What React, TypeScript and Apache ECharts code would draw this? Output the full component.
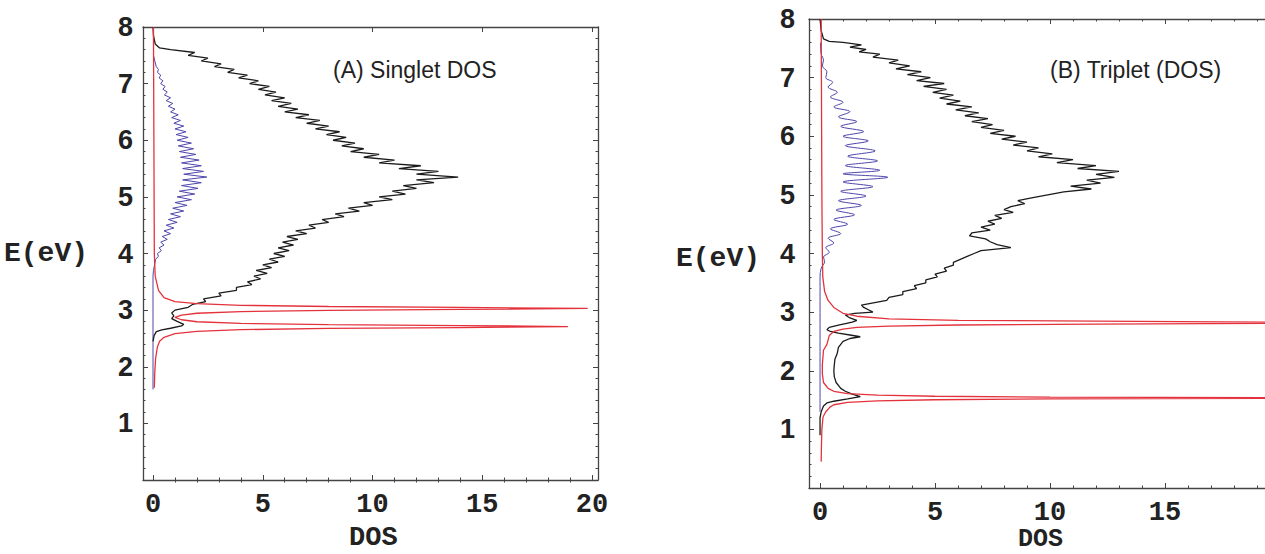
import React, { useEffect, useRef } from "react";
import * as echarts from "echarts";

// ---------- tick labels ----------
const yTickLabels = [1, 2, 3, 4, 5, 6, 7, 8];
const xTickLabelsA = [0, 5, 10, 15, 20];
const xTickLabelsB = [0, 5, 10, 15];
const xMinorA = [1, 2, 3, 4, 6, 7, 8, 9, 11, 12, 13, 14, 16, 17, 18, 19];
const xMinorB = [1, 2, 3, 4, 6, 7, 8, 9, 11, 12, 13, 14, 16, 17, 18, 19];

// ---------- panel A : singlet DOS  ([DOS, E]) ----------
const singletTotal = [
  [0, 8.0], [0.02, 7.85], [0.1, 7.7], [0.3, 7.63], [0.8, 7.6],
  [1.9, 7.55], [1.6, 7.5], [2.5, 7.45], [2.2, 7.4], [3.1, 7.35], [2.8, 7.3], [3.7, 7.25], [3.4, 7.2],
  [4.3, 7.15], [3.9, 7.1], [4.8, 7.05], [4.4, 7.0], [5.3, 6.95], [4.8, 6.9], [5.6, 6.85], [5.1, 6.8],
  [6.0, 6.75], [5.4, 6.7], [6.3, 6.65], [5.7, 6.6], [6.6, 6.55], [6.0, 6.5], [7.1, 6.45], [6.5, 6.4],
  [7.6, 6.35], [7.0, 6.3], [8.0, 6.25], [7.4, 6.2], [8.5, 6.15], [7.9, 6.1], [8.8, 6.05], [8.2, 6.0],
  [9.2, 5.95], [8.6, 5.9], [9.6, 5.85], [9.0, 5.8], [10.3, 5.75], [9.6, 5.7], [11.0, 5.65], [10.3, 5.6],
  [12.2, 5.55], [11.2, 5.5], [13.0, 5.45], [12.0, 5.4], [13.9, 5.35], [12.0, 5.3], [12.8, 5.25], [11.4, 5.2],
  [12.0, 5.15], [10.9, 5.1], [11.5, 5.05], [10.3, 5.0], [10.9, 4.95], [9.6, 4.9], [10.0, 4.85], [8.9, 4.8],
  [9.4, 4.75], [8.3, 4.7], [8.7, 4.65], [7.7, 4.6], [8.0, 4.55], [7.1, 4.5], [7.4, 4.45], [6.5, 4.4],
  [7.0, 4.35], [6.1, 4.3], [6.6, 4.25], [5.9, 4.2], [6.4, 4.15], [5.7, 4.1], [6.2, 4.05], [5.5, 4.0],
  [6.0, 3.95], [5.3, 3.9], [5.7, 3.85], [5.0, 3.8], [5.4, 3.75], [4.7, 3.7], [5.2, 3.65], [4.6, 3.6],
  [4.9, 3.55], [4.3, 3.5], [4.5, 3.45], [3.8, 3.4], [3.8, 3.35], [3.0, 3.3], [3.1, 3.25], [2.3, 3.2],
  [2.4, 3.15], [1.8, 3.1], [1.6, 3.05], [1.0, 3.0], [0.85, 2.95], [0.95, 2.9], [0.85, 2.85], [1.1, 2.8],
  [1.4, 2.75], [1.3, 2.72], [0.8, 2.68], [0.4, 2.65], [0.15, 2.62], [0.05, 2.55], [0, 2.45],
];

const singletBlue = [
  [0.02, 7.5], [0.08, 7.4], [0.15, 7.3], [0.25, 7.25], [0.2, 7.2], [0.35, 7.15], [0.28, 7.1], [0.45, 7.05],
  [0.35, 7.0], [0.55, 6.95], [0.45, 6.9], [0.65, 6.85], [0.52, 6.8], [0.8, 6.75], [0.6, 6.7], [0.9, 6.65],
  [0.7, 6.6], [1.0, 6.55], [0.8, 6.5], [1.15, 6.45], [0.85, 6.4], [1.25, 6.35], [0.95, 6.3], [1.4, 6.25],
  [1.0, 6.2], [1.5, 6.15], [1.05, 6.1], [1.6, 6.05], [1.1, 6.0], [1.75, 5.95], [1.15, 5.9], [1.85, 5.85],
  [1.2, 5.8], [1.95, 5.75], [1.25, 5.7], [2.1, 5.65], [1.3, 5.6], [2.2, 5.55], [1.35, 5.5], [2.3, 5.45],
  [1.4, 5.4], [2.45, 5.35], [1.35, 5.3], [2.2, 5.25], [1.3, 5.2], [2.05, 5.15], [1.2, 5.1], [1.9, 5.05],
  [1.1, 5.0], [1.75, 4.95], [1.0, 4.9], [1.55, 4.85], [0.9, 4.8], [1.4, 4.75], [0.8, 4.7], [1.25, 4.65],
  [0.7, 4.6], [1.1, 4.55], [0.6, 4.5], [0.95, 4.45], [0.5, 4.4], [0.8, 4.35], [0.42, 4.3], [0.65, 4.25],
  [0.35, 4.2], [0.5, 4.15], [0.28, 4.1], [0.38, 4.05], [0.2, 4.0], [0.25, 3.95], [0.12, 3.9], [0.07, 3.8],
  [0.02, 3.7], [0, 3.6], [0, 1.6],
];

const singletRed = [
  [0.02, 8.0], [0.03, 7.0], [0.04, 6.0], [0.05, 5.0], [0.06, 4.0], [0.1, 3.6], [0.25, 3.35], [0.5, 3.22],
  [1.0, 3.15], [2.0, 3.115], [4.0, 3.085], [8.0, 3.064], [14.0, 3.048], [19.8, 3.03], [14.0, 3.012],
  [8.0, 2.996], [4.0, 2.975], [2.0, 2.945], [1.3, 2.91], [1.0, 2.87], [1.3, 2.83], [2.0, 2.795],
  [4.0, 2.765], [8.0, 2.744], [14.0, 2.728], [18.9, 2.71], [14.0, 2.692], [8.0, 2.676], [4.0, 2.655],
  [2.0, 2.625], [1.0, 2.585], [0.5, 2.52], [0.3, 2.45], [0.2, 2.35], [0.12, 2.15], [0.08, 1.9], [0.06, 1.63],
];

// ---------- panel B : triplet DOS  ([DOS, E]) ----------
const tripletTotal = [
  [0, 8.0], [0.05, 7.8], [0.15, 7.66], [0.4, 7.62], [1.0, 7.6], [1.8, 7.56], [1.3, 7.52], [2.0, 7.48],
  [1.7, 7.44], [2.6, 7.4], [2.3, 7.35], [3.4, 7.3], [3.0, 7.25], [3.9, 7.2], [3.3, 7.15], [4.4, 7.1],
  [3.8, 7.05], [4.8, 7.0], [4.2, 6.95], [5.4, 6.9], [4.5, 6.85], [5.5, 6.8], [4.9, 6.75], [5.8, 6.7],
  [5.2, 6.65], [6.1, 6.6], [5.5, 6.55], [6.6, 6.5], [5.9, 6.45], [6.9, 6.4], [6.3, 6.35], [7.3, 6.3],
  [6.6, 6.25], [7.5, 6.2], [7.0, 6.15], [8.0, 6.1], [7.4, 6.05], [8.5, 6.0], [7.9, 5.95], [9.0, 5.9],
  [8.4, 5.85], [9.5, 5.8], [9.0, 5.75], [10.1, 5.7], [9.5, 5.65], [11.0, 5.6], [10.3, 5.55], [12.0, 5.5],
  [11.2, 5.45], [13.0, 5.4], [12.0, 5.35], [12.8, 5.3], [11.6, 5.25], [12.2, 5.2], [10.9, 5.15], [11.8, 5.1],
  [10.6, 5.05], [9.9, 5.0], [9.2, 4.95], [8.6, 4.9], [8.9, 4.85], [8.3, 4.8], [8.0, 4.75], [8.4, 4.7],
  [7.6, 4.65], [7.9, 4.6], [7.3, 4.55], [7.6, 4.5], [7.0, 4.45], [7.4, 4.4], [6.6, 4.35], [6.5, 4.3],
  [7.2, 4.25], [7.4, 4.2], [7.7, 4.15], [8.3, 4.1], [7.0, 4.05], [6.7, 4.0], [6.4, 3.95], [6.1, 3.9],
  [5.8, 3.85], [5.8, 3.8], [5.4, 3.75], [5.5, 3.7], [5.0, 3.65], [5.1, 3.6], [4.6, 3.55], [4.6, 3.5],
  [4.1, 3.45], [4.2, 3.4], [3.6, 3.35], [3.6, 3.3], [3.0, 3.25], [2.9, 3.2], [2.2, 3.15], [1.8, 3.12],
  [1.9, 3.08], [2.1, 3.04], [2.3, 3.0], [1.5, 2.98], [1.1, 2.95], [1.3, 2.9], [1.6, 2.86], [1.4, 2.83],
  [0.8, 2.78], [0.4, 2.74], [0.3, 2.7], [0.45, 2.67], [0.8, 2.64], [1.3, 2.61], [1.75, 2.58], [1.3, 2.55],
  [1.0, 2.5], [0.8, 2.4], [0.75, 2.3], [0.65, 2.2], [0.62, 2.1], [0.6, 2.0], [0.62, 1.9], [0.7, 1.8],
  [0.9, 1.7], [1.1, 1.65], [1.4, 1.6], [1.75, 1.56], [1.2, 1.52], [0.6, 1.48], [0.3, 1.45], [0.15, 1.4],
  [0.05, 1.3], [0, 1.2], [0, 0.9],
];

const tripletBlue = [
  [0.02, 7.6], [0.05, 7.4], [0.15, 7.3], [0.1, 7.2], [0.3, 7.1], [0.25, 7.0], [0.55, 6.92], [0.35, 6.84],
  [0.75, 6.75], [0.45, 6.67], [1.0, 6.58], [0.6, 6.5], [1.3, 6.42], [0.8, 6.33], [1.6, 6.25], [0.9, 6.17],
  [1.9, 6.08], [1.0, 6.0], [2.1, 5.92], [1.1, 5.84], [2.4, 5.75], [1.2, 5.66], [2.5, 5.58], [1.1, 5.5],
  [2.6, 5.42], [1.0, 5.36], [2.95, 5.3], [1.0, 5.22], [2.3, 5.14], [0.9, 5.06], [2.0, 4.98], [0.8, 4.9],
  [1.8, 4.82], [0.7, 4.74], [1.5, 4.66], [0.6, 4.58], [1.2, 4.5], [0.45, 4.42], [0.9, 4.34], [0.35, 4.26],
  [0.6, 4.18], [0.25, 4.1], [0.4, 4.02], [0.15, 3.94], [0.2, 3.86], [0.05, 3.75], [0, 3.6], [0, 1.3],
];

const tripletRed = [
  [0.05, 8.0], [0.06, 7.0], [0.07, 6.0], [0.08, 5.0], [0.1, 4.0], [0.12, 3.6], [0.2, 3.35], [0.35, 3.2],
  [0.6, 3.08], [1.0, 2.98], [1.6, 2.93], [3.0, 2.885], [6.0, 2.86], [12.0, 2.845], [25.0, 2.82],
  [12.0, 2.795], [6.0, 2.78], [3.0, 2.76], [1.6, 2.74], [1.0, 2.71], [0.6, 2.67], [0.4, 2.6], [0.3, 2.45],
  [0.15, 2.35], [0.1, 2.1], [0.1, 1.95], [0.15, 1.8], [0.35, 1.7], [0.6, 1.65], [1.2, 1.61], [2.5, 1.585],
  [5.0, 1.565], [10.0, 1.55], [25.0, 1.535], [10.0, 1.52], [5.0, 1.505], [2.5, 1.485], [1.2, 1.46],
  [0.6, 1.42], [0.43, 1.38], [0.25, 1.3], [0.13, 1.21], [0.08, 1.0], [0.06, 0.7], [0.05, 0.45],
];

const AXIS_COLOR = "#444";
const BLACK = "#1b1b1b";
const RED = "#e4323c";
const BLUE = "#4e46ab";

function xAxesFor(grid: number, min: number, max: number, labels: number[], minor: number[]) {
  const base = {
    type: "value", gridIndex: grid, min, max, splitLine: { show: false },
    axisLine: { show: true, onZero: false, lineStyle: { color: AXIS_COLOR, width: 1.3 } },
  };
  return [
    {
      ...base, position: "bottom",
      axisTick: { show: true, inside: true, length: 5, customValues: labels, lineStyle: { color: AXIS_COLOR } },
      axisLabel: {
        show: true, customValues: labels, margin: 11,
        fontFamily: "Liberation Mono, monospace", fontWeight: "bold", fontSize: 27, color: "#222",
      },
    },
    {
      ...base, position: "top",
      axisTick: { show: true, inside: true, length: 5, customValues: labels, lineStyle: { color: AXIS_COLOR } },
      axisLabel: { show: false },
    },
    {
      ...base, position: "bottom", axisLine: { show: false },
      axisTick: { show: true, inside: true, length: 2.5, customValues: minor, lineStyle: { color: AXIS_COLOR } },
      axisLabel: { show: false },
    },
    {
      ...base, position: "top", axisLine: { show: false },
      axisTick: { show: true, inside: true, length: 2.5, customValues: minor, lineStyle: { color: AXIS_COLOR } },
      axisLabel: { show: false },
    },
  ];
}

function yAxisFor(grid: number, position: string, labels: boolean, margin: number) {
  return {
    type: "value", gridIndex: grid, position, min: 0, max: 8, interval: 1,
    splitLine: { show: false },
    axisLine: { show: true, onZero: false, lineStyle: { color: AXIS_COLOR, width: 1.3 } },
    axisTick: { show: true, inside: true, length: 5, lineStyle: { color: AXIS_COLOR } },
    minorTick: { show: true, splitNumber: 5, length: 2.5, lineStyle: { color: AXIS_COLOR } },
    axisLabel: labels
      ? {
          show: true, customValues: yTickLabels, margin,
          fontFamily: "Liberation Sans, Arial, sans-serif", fontWeight: "bold", fontSize: 27, color: "#222",
        }
      : { show: false },
  };
}

function lineSeries(data: number[][], color: string, width: number, xi: number, yi: number, smooth = 0) {
  return {
    type: "line", data, xAxisIndex: xi, yAxisIndex: yi, showSymbol: false, symbol: "none",
    silent: true, clip: true, smooth, lineStyle: { color, width }, z: 3,
  };
}

export default function App() {
  const ref = useRef<HTMLDivElement>(null);
  useEffect(() => {
    document.body.style.margin = "0";
    const chart = echarts.init(ref.current!, null, { renderer: "svg" });
    const monoBold = "Liberation Mono, Courier New, monospace";
    chart.setOption({
      animation: false,
      backgroundColor: "#ffffff",
      grid: [
        { left: 143, top: 27, width: 455, height: 453 },
        { left: 809, top: 19, right: 0, height: 469 },
      ],
      xAxis: [
        ...xAxesFor(0, -0.456, 20.27, xTickLabelsA, xMinorA),
        ...xAxesFor(1, -0.48, 19.35, xTickLabelsB, xMinorB),
      ],
      yAxis: [
        yAxisFor(0, "left", true, 10),
        yAxisFor(0, "right", false, 0),
        yAxisFor(1, "left", true, 14),
      ],
      series: [
        lineSeries(singletBlue, BLUE, 1, 0, 0),
        lineSeries(singletTotal, BLACK, 1.3, 0, 0),
        lineSeries(singletRed, RED, 1.3, 0, 0),
        lineSeries(tripletBlue, BLUE, 1, 4, 2, 0.35),
        lineSeries(tripletTotal, BLACK, 1.3, 4, 2),
        lineSeries(tripletRed, RED, 1.3, 4, 2),
      ],
      graphic: [
        { type: "text", left: 333, top: 58, style: { text: "(A) Singlet DOS", font: "23px 'Liberation Sans', Arial, sans-serif", fill: "#222" } },
        { type: "text", left: 1050, top: 58, style: { text: "(B) Triplet (DOS)", font: "23px 'Liberation Sans', Arial, sans-serif", fill: "#222" } },
        { type: "text", left: 4, top: 239, style: { text: "E(eV)", font: `bold 28px ${monoBold}`, fill: "#222" } },
        { type: "text", left: 676, top: 244, style: { text: "E(eV)", font: `bold 28px ${monoBold}`, fill: "#222" } },
        { type: "text", left: 349, top: 524, style: { text: "DOS", font: `bold 27px ${monoBold}`, fill: "#222" } },
        { type: "text", left: 1018, top: 527, style: { text: "DOS", font: `bold 25px ${monoBold}`, fill: "#222" } },
      ],
    });
    return () => chart.dispose();
  }, []);
  return <div ref={ref} style={{ width: 1265, height: 554 }} />;
}
